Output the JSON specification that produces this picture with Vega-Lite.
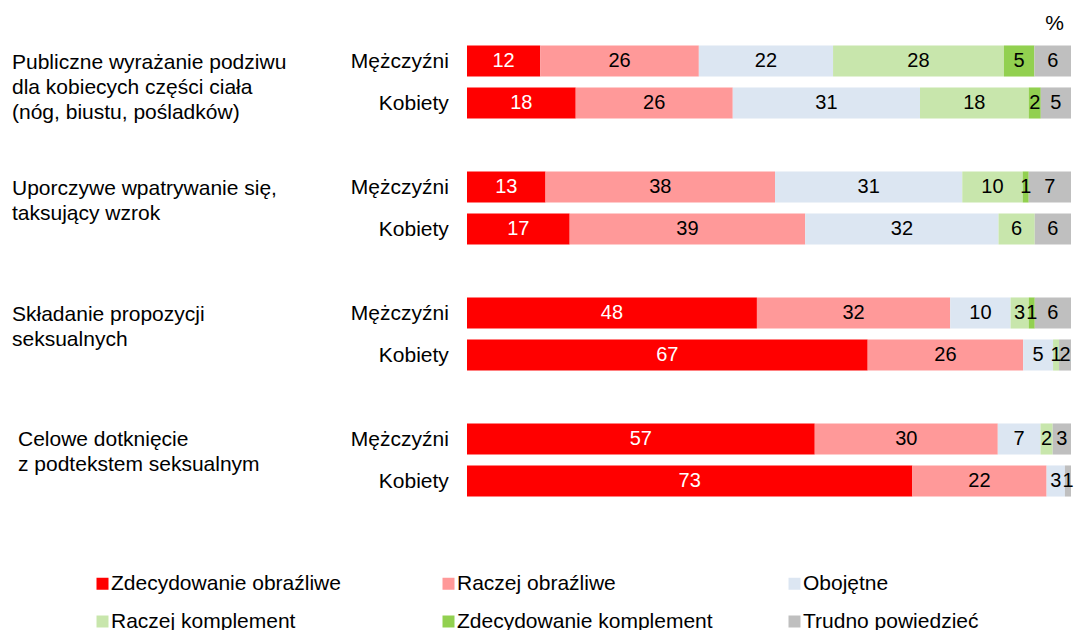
{
  "$schema": "https://vega.github.io/schema/vega-lite/v6.json",
  "width": 1059,
  "height": 462,
  "autosize": {"type": "none"},
  "padding": {"left": 12, "top": 40, "right": 4, "bottom": 128},
  "config": {"view": {"stroke": null}, "font": "Liberation Sans"},
  "title": {"text": "%", "anchor": "end", "frame": "group", "fontSize": 21, "fontWeight": "normal", "font": "Liberation Sans", "color": "#000000", "dx": -7, "offset": 6},
  "datasets": {
    "main": [
      {"row": "G1|M", "cat": "Zdecydowanie obraźliwe", "value": 12},
      {"row": "G1|M", "cat": "Raczej obraźliwe", "value": 26},
      {"row": "G1|M", "cat": "Obojętne", "value": 22},
      {"row": "G1|M", "cat": "Raczej komplement", "value": 28},
      {"row": "G1|M", "cat": "Zdecydowanie komplement", "value": 5},
      {"row": "G1|M", "cat": "Trudno powiedzieć", "value": 6},
      {"row": "G1|K", "cat": "Zdecydowanie obraźliwe", "value": 18},
      {"row": "G1|K", "cat": "Raczej obraźliwe", "value": 26},
      {"row": "G1|K", "cat": "Obojętne", "value": 31},
      {"row": "G1|K", "cat": "Raczej komplement", "value": 18},
      {"row": "G1|K", "cat": "Zdecydowanie komplement", "value": 2},
      {"row": "G1|K", "cat": "Trudno powiedzieć", "value": 5},
      {"row": "G2|M", "cat": "Zdecydowanie obraźliwe", "value": 13},
      {"row": "G2|M", "cat": "Raczej obraźliwe", "value": 38},
      {"row": "G2|M", "cat": "Obojętne", "value": 31},
      {"row": "G2|M", "cat": "Raczej komplement", "value": 10},
      {"row": "G2|M", "cat": "Zdecydowanie komplement", "value": 1},
      {"row": "G2|M", "cat": "Trudno powiedzieć", "value": 7},
      {"row": "G2|K", "cat": "Zdecydowanie obraźliwe", "value": 17},
      {"row": "G2|K", "cat": "Raczej obraźliwe", "value": 39},
      {"row": "G2|K", "cat": "Obojętne", "value": 32},
      {"row": "G2|K", "cat": "Raczej komplement", "value": 6},
      {"row": "G2|K", "cat": "Zdecydowanie komplement", "value": 0},
      {"row": "G2|K", "cat": "Trudno powiedzieć", "value": 6},
      {"row": "G3|M", "cat": "Zdecydowanie obraźliwe", "value": 48},
      {"row": "G3|M", "cat": "Raczej obraźliwe", "value": 32},
      {"row": "G3|M", "cat": "Obojętne", "value": 10},
      {"row": "G3|M", "cat": "Raczej komplement", "value": 3},
      {"row": "G3|M", "cat": "Zdecydowanie komplement", "value": 1},
      {"row": "G3|M", "cat": "Trudno powiedzieć", "value": 6},
      {"row": "G3|K", "cat": "Zdecydowanie obraźliwe", "value": 67},
      {"row": "G3|K", "cat": "Raczej obraźliwe", "value": 26},
      {"row": "G3|K", "cat": "Obojętne", "value": 5},
      {"row": "G3|K", "cat": "Raczej komplement", "value": 1},
      {"row": "G3|K", "cat": "Zdecydowanie komplement", "value": 0},
      {"row": "G3|K", "cat": "Trudno powiedzieć", "value": 2},
      {"row": "G4|M", "cat": "Zdecydowanie obraźliwe", "value": 57},
      {"row": "G4|M", "cat": "Raczej obraźliwe", "value": 30},
      {"row": "G4|M", "cat": "Obojętne", "value": 7},
      {"row": "G4|M", "cat": "Raczej komplement", "value": 2},
      {"row": "G4|M", "cat": "Zdecydowanie komplement", "value": 0},
      {"row": "G4|M", "cat": "Trudno powiedzieć", "value": 3},
      {"row": "G4|K", "cat": "Zdecydowanie obraźliwe", "value": 73},
      {"row": "G4|K", "cat": "Raczej obraźliwe", "value": 22},
      {"row": "G4|K", "cat": "Obojętne", "value": 3},
      {"row": "G4|K", "cat": "Raczej komplement", "value": 0},
      {"row": "G4|K", "cat": "Zdecydowanie komplement", "value": 0},
      {"row": "G4|K", "cat": "Trudno powiedzieć", "value": 1}
    ],
    "sex": [
      {"row": "G1|M", "label": "Mężczyźni"},
      {"row": "G1|K", "label": "Kobiety"},
      {"row": "G2|M", "label": "Mężczyźni"},
      {"row": "G2|K", "label": "Kobiety"},
      {"row": "G3|M", "label": "Mężczyźni"},
      {"row": "G3|K", "label": "Kobiety"},
      {"row": "G4|M", "label": "Mężczyźni"},
      {"row": "G4|K", "label": "Kobiety"}
    ],
    "groups": [
      {"row": "G1|M", "label": ["Publiczne wyrażanie podziwu", "dla kobiecych części ciała", "(nóg, biustu, pośladków)"]},
      {"row": "G2|M", "label": ["Uporczywe wpatrywanie się,", "taksujący wzrok"]},
      {"row": "G3|M", "label": ["Składanie propozycji", "seksualnych"]}
    ],
    "groups2": [
      {"row": "G4|M", "label": ["Celowe dotknięcie", "z podtekstem seksualnym"]}
    ]
  },
  "layer": [
    {
      "data": {"name": "main"},
      "transform": [
        {"calculate": "indexof(['Zdecydowanie obraźliwe','Raczej obraźliwe','Obojętne','Raczej komplement','Zdecydowanie komplement','Trudno powiedzieć'], datum.cat)", "as": "ord"},
        {"stack": "value", "groupby": ["row"], "sort": [{"field": "ord", "order": "ascending"}], "offset": "normalize", "as": ["x0", "x1"]}
      ],
      "mark": {"type": "bar"},
      "encoding": {
        "x": {"field": "x0", "type": "quantitative", "scale": {"domain": [-0.7533, 1], "nice": false, "zero": false}, "axis": null},
        "x2": {"field": "x1"},
        "y": {"field": "row", "type": "nominal", "scale": {"domain": ["G1|M", "G1|K", "s1", "G2|M", "G2|K", "s2", "G3|M", "G3|K", "s3", "G4|M", "G4|K"], "paddingInner": 0.26, "paddingOuter": 0.13}, "axis": null},
        "color": {
          "field": "cat", "type": "nominal",
          "scale": {"domain": ["Zdecydowanie obraźliwe", "Raczej obraźliwe", "Obojętne", "Raczej komplement", "Zdecydowanie komplement", "Trudno powiedzieć"],
                    "range": ["#FF0000", "#FF9999", "#DCE6F2", "#C8E6AC", "#92D050", "#BFBFBF"]},
          "legend": {"orient": "none", "legendX": 80, "legendY": 533, "columns": 3, "direction": "horizontal", "title": null,
                     "symbolType": "square", "symbolSize": 144, "symbolStrokeWidth": 0, "labelFontSize": 21, "labelFont": "Liberation Sans",
                     "labelColor": "#000000", "labelOffset": -2, "columnPadding": 71, "rowPadding": 16, "gridAlign": "all", "padding": 0, "labelLimit": 400}
        }
      }
    },
    {
      "data": {"name": "main"},
      "transform": [
        {"calculate": "indexof(['Zdecydowanie obraźliwe','Raczej obraźliwe','Obojętne','Raczej komplement','Zdecydowanie komplement','Trudno powiedzieć'], datum.cat)", "as": "ord"},
        {"stack": "value", "groupby": ["row"], "sort": [{"field": "ord", "order": "ascending"}], "offset": "normalize", "as": ["x0", "x1"]},
        {"filter": "datum.value > 0"},
        {"calculate": "(datum.x0 + datum.x1) / 2", "as": "xm"}
      ],
      "mark": {"type": "text", "fontSize": 20, "font": "Liberation Sans", "baseline": "middle", "align": "center"},
      "encoding": {
        "x": {"field": "xm", "type": "quantitative"},
        "y": {"field": "row", "type": "nominal"},
        "text": {"field": "value", "type": "quantitative"},
        "color": {"condition": {"test": "datum.cat === 'Zdecydowanie obraźliwe'", "value": "#FFFFFF"}, "value": "#000000"}
      }
    },
    {
      "data": {"name": "sex"},
      "mark": {"type": "text", "fontSize": 21, "font": "Liberation Sans", "baseline": "middle", "align": "right", "color": "#000000", "dy": 1},
      "encoding": {
        "x": {"datum": -0.03, "type": "quantitative"},
        "y": {"field": "row", "type": "nominal"},
        "text": {"field": "label"}
      }
    },
    {
      "data": {"name": "groups"},
      "mark": {"type": "text", "fontSize": 21, "font": "Liberation Sans", "baseline": "middle", "align": "left", "color": "#000000", "lineHeight": 25, "dy": 2},
      "encoding": {
        "x": {"datum": -0.7533, "type": "quantitative"},
        "y": {"field": "row", "type": "nominal"},
        "text": {"field": "label"}
      }
    },
    {
      "data": {"name": "groups2"},
      "mark": {"type": "text", "fontSize": 21, "font": "Liberation Sans", "baseline": "middle", "align": "left", "color": "#000000", "lineHeight": 25, "dy": 1, "dx": 6},
      "encoding": {
        "x": {"datum": -0.7533, "type": "quantitative"},
        "y": {"field": "row", "type": "nominal"},
        "text": {"field": "label"}
      }
    }
  ]
}
